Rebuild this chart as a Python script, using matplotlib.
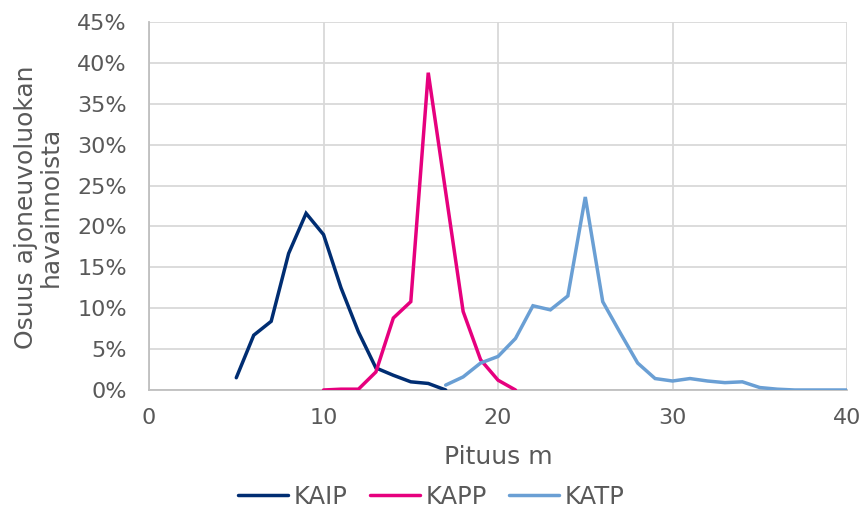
import numpy as np
import matplotlib
matplotlib.use("Agg")
import matplotlib.pyplot as plt
from matplotlib.ticker import PercentFormatter

# Data (percent of vehicle class observations by length)
kaip_x = list(range(5, 18))
kaip_y = [1.5, 6.7, 8.4, 16.7, 21.6, 19.0, 12.5, 7.1, 2.7, 1.8, 1.0, 0.8, 0.0]

kapp_x = list(range(10, 22))
kapp_y = [0.0, 0.1, 0.1, 2.2, 8.8, 10.8, 38.8, 24.2, 9.6, 3.7, 1.2, 0.0]

katp_x = list(range(17, 41))
katp_y = [0.6, 1.6, 3.3, 4.1, 6.3, 10.3, 9.8, 11.5, 23.6, 10.8, 7.0, 3.3,
          1.4, 1.1, 1.4, 1.1, 0.9, 1.0, 0.3, 0.1, 0.0, 0.0, 0.0, 0.0]

series = [("KAIP", kaip_x, kaip_y, "#002d72"),
          ("KAPP", kapp_x, kapp_y, "#e6007e"),
          ("KATP", katp_x, katp_y, "#6a9fd4")]

txt = "#595959"
plt.rcParams['font.family'] = ['DejaVu Sans']

fig = plt.figure(figsize=(8.63, 5.09), dpi=100)
ax = fig.add_axes([0.1727, 0.2338, 0.8088, 0.723])

for name, xs, ys, col in series:
    ax.plot(xs, ys, color=col, lw=2.5, label=name, solid_capstyle='round',
            solid_joinstyle='miter', zorder=3)

ax.set_xlim(0, 40)
ax.set_ylim(0, 45)
ax.set_xticks(np.arange(0, 41, 10))
ax.set_yticks(np.arange(0, 46, 5))
ax.yaxis.set_major_formatter(PercentFormatter(decimals=0))
ax.grid(True, color="#d9d9d9", lw=1.3, zorder=0)
ax.tick_params(length=0, labelsize=16, colors=txt)
ax.tick_params(axis='y', pad=16)
ax.tick_params(axis='x', pad=13)
for s in ["top", "right"]:
    ax.spines[s].set_visible(False)
for s in ["left", "bottom"]:
    ax.spines[s].set_color("#bfbfbf")
    ax.spines[s].set_linewidth(1.3)

# axis titles
fig.text(0.5 * (149 + 847) / 863, 1 - 457 / 509, "Pituus m", fontsize=18,
         color=txt, ha='center', va='center')
fig.text(38 / 863, 1 - 207 / 509, "Osuus ajoneuvoluokan\nhavainnoista",
         fontsize=18, color=txt, ha='center', va='center', rotation=90,
         linespacing=1.05, multialignment='center')

fig.legend(loc="center", ncol=3, frameon=False, fontsize=17.5,
           bbox_to_anchor=(0.5, 1 - 497 / 509), handlelength=2.05,
           handletextpad=0.25, columnspacing=0.9, labelcolor=txt)

fig.savefig("out.png", dpi=100)
